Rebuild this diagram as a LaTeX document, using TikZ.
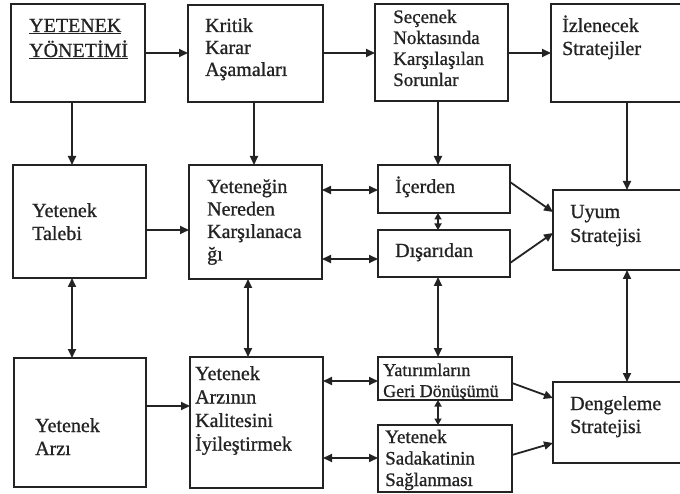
\documentclass[tikz,border=0pt]{standalone}
\usepackage{fontspec}
\setmainfont[FakeBold=0.9]{Liberation Serif}
\usetikzlibrary{arrows.meta}
\definecolor{ink}{RGB}{35,35,35}
\newcommand\txtlines[3][20]{{\fontsize{#1}{#2}\selectfont\begin{tabular}[t]{@{}l@{}}#3\end{tabular}}}
\begin{document}
\begin{tikzpicture}[x=1pt,y=-1pt,
  box/.style={draw=ink,line width=2.4pt,rectangle,anchor=north west,inner sep=0pt,outer sep=0pt},
  lbl/.style={anchor=base west,inner sep=0pt,text=ink},
  arr/.style={draw=ink,line width=1.8pt,-{Triangle[length=9pt,width=8pt]}},
  darr/.style={draw=ink,line width=1.8pt,{Triangle[length=9pt,width=8pt]}-{Triangle[length=9pt,width=8pt]}},
  sdarr/.style={draw=ink,line width=1.8pt,{Triangle[length=6.5pt,width=7pt]}-{Triangle[length=6.5pt,width=7pt]}}]
\useasboundingbox (0,0) rectangle (680,494);
\fill[white] (0,0) rectangle (680,494);
\clip (0,0) rectangle (680,494);
% boxes
\node[box,minimum width=134pt,minimum height=98pt] (n1) at (11,4) {};
\node[box,minimum width=135pt,minimum height=97pt] (n2) at (188,5) {};
\node[box,minimum width=133pt,minimum height=97pt] (n3) at (375,4) {};
\node[box,minimum width=150pt,minimum height=98pt] (n4) at (551,4) {};
\node[box,minimum width=133pt,minimum height=113pt] (n5) at (13,165) {};
\node[box,minimum width=133pt,minimum height=114pt] (n6) at (189,165) {};
\node[box,minimum width=132pt,minimum height=48pt] (n7) at (378,165) {};
\node[box,minimum width=132pt,minimum height=47pt] (n8) at (378,230) {};
\node[box,minimum width=150pt,minimum height=80pt] (n9) at (553,190) {};
\node[box,minimum width=132pt,minimum height=129pt] (n10) at (14,358) {};
\node[box,minimum width=133pt,minimum height=131pt] (n11) at (190,357) {};
\node[box,minimum width=134pt,minimum height=43pt] (n12) at (378,357) {};
\node[box,minimum width=134pt,minimum height=67pt] (n13) at (378,425) {};
\node[box,minimum width=150pt,minimum height=81pt] (n14) at (553,382) {};
% labels
\node[lbl] (t1) at (29,32) {\txtlines{25}{\underline{YETENEK}\\\underline{YÖNETİMİ}}};
\node[lbl] (t2) at (205,32) {\txtlines{22}{Kritik\\Karar\\Aşamaları}};
\node[lbl] (t3) at (393,23) {\txtlines[19]{21}{Seçenek\\Noktasında\\Karşılaşılan\\Sorunlar}};
\node[lbl] (t4) at (562,32) {\txtlines{23}{İzlenecek\\Stratejiler}};
\node[lbl] (t5) at (32,217) {\txtlines{23}{Yetenek\\Talebi}};
\node[lbl] (t6) at (207,193) {\txtlines{22.5}{Yeteneğin\\Nereden\\Karşılanaca\\ğı}};
\node[lbl] (t7) at (395,193) {\txtlines{22}{İçerden}};
\node[lbl] (t8) at (395,257) {\txtlines{22}{Dışarıdan}};
\node[lbl] (t9) at (570,218) {\txtlines{24}{Uyum\\Stratejisi}};
\node[lbl] (t10) at (35,432) {\txtlines{23}{Yetenek\\Arzı}};
\node[lbl] (t11) at (195,380) {\txtlines{23.5}{Yetenek\\Arzının\\Kalitesini\\İyileştirmek}};
\node[lbl] (t12) at (383,376) {\txtlines[18]{21}{Yatırımların\\Geri Dönüşümü}};
\node[lbl] (t13) at (385,443) {\txtlines[19]{21.5}{Yetenek\\Sadakatinin\\Sağlanması}};
\node[lbl] (t14) at (570,410) {\txtlines{23}{Dengeleme\\Stratejisi}};
% connectors
\draw[arr] (n1.east |- 0,53) -- (n2.west |- 0,53);
\draw[arr] (n2.east |- 0,53) -- (n3.west |- 0,53);
\draw[arr] (n3.east |- 0,53) -- (n4.west |- 0,53);
\draw[arr] (n1.south -| 72,0) -- (n5.north -| 72,0);
\draw[arr] (n2.south -| 254,0) -- (n6.north -| 254,0);
\draw[arr] (n3.south -| 438,0) -- (n7.north -| 438,0);
\draw[arr] (n4.south -| 627,0) -- (n9.north -| 627,0);
\draw[arr] (n5.east |- 0,230) -- (n6.west |- 0,230);
\draw[darr] (n6.east |- 0,190) -- (n7.west |- 0,190);
\draw[darr] (n6.east |- 0,259) -- (n8.west |- 0,259);
\draw[sdarr] (n7.south -| 438,0) -- (n8.north -| 438,0);
\draw[arr] (n7.east |- 0,182) -- (n9.west |- 0,212);
\draw[arr] (n8.east |- 0,263) -- (n9.west |- 0,233);
\draw[darr] (n5.south -| 72,0) -- (n10.north -| 72,0);
\draw[darr] (n6.south -| 248,0) -- (n11.north -| 248,0);
\draw[darr] (n8.south -| 438,0) -- (n12.north -| 438,0);
\draw[darr] (n9.south -| 627,0) -- (n14.north -| 627,0);
\draw[arr] (n10.east |- 0,406) -- (n11.west |- 0,406);
\draw[darr] (n11.east |- 0,381) -- (n12.west |- 0,381);
\draw[darr] (n11.east |- 0,458) -- (n13.west |- 0,458);
\draw[sdarr] (n12.south -| 438,0) -- (n13.north -| 438,0);
\draw[arr] (n12.east |- 0,383) -- (n14.west |- 0,398);
\draw[arr] (n13.east |- 0,455) -- (n14.west |- 0,443);
\end{tikzpicture}
\end{document}
